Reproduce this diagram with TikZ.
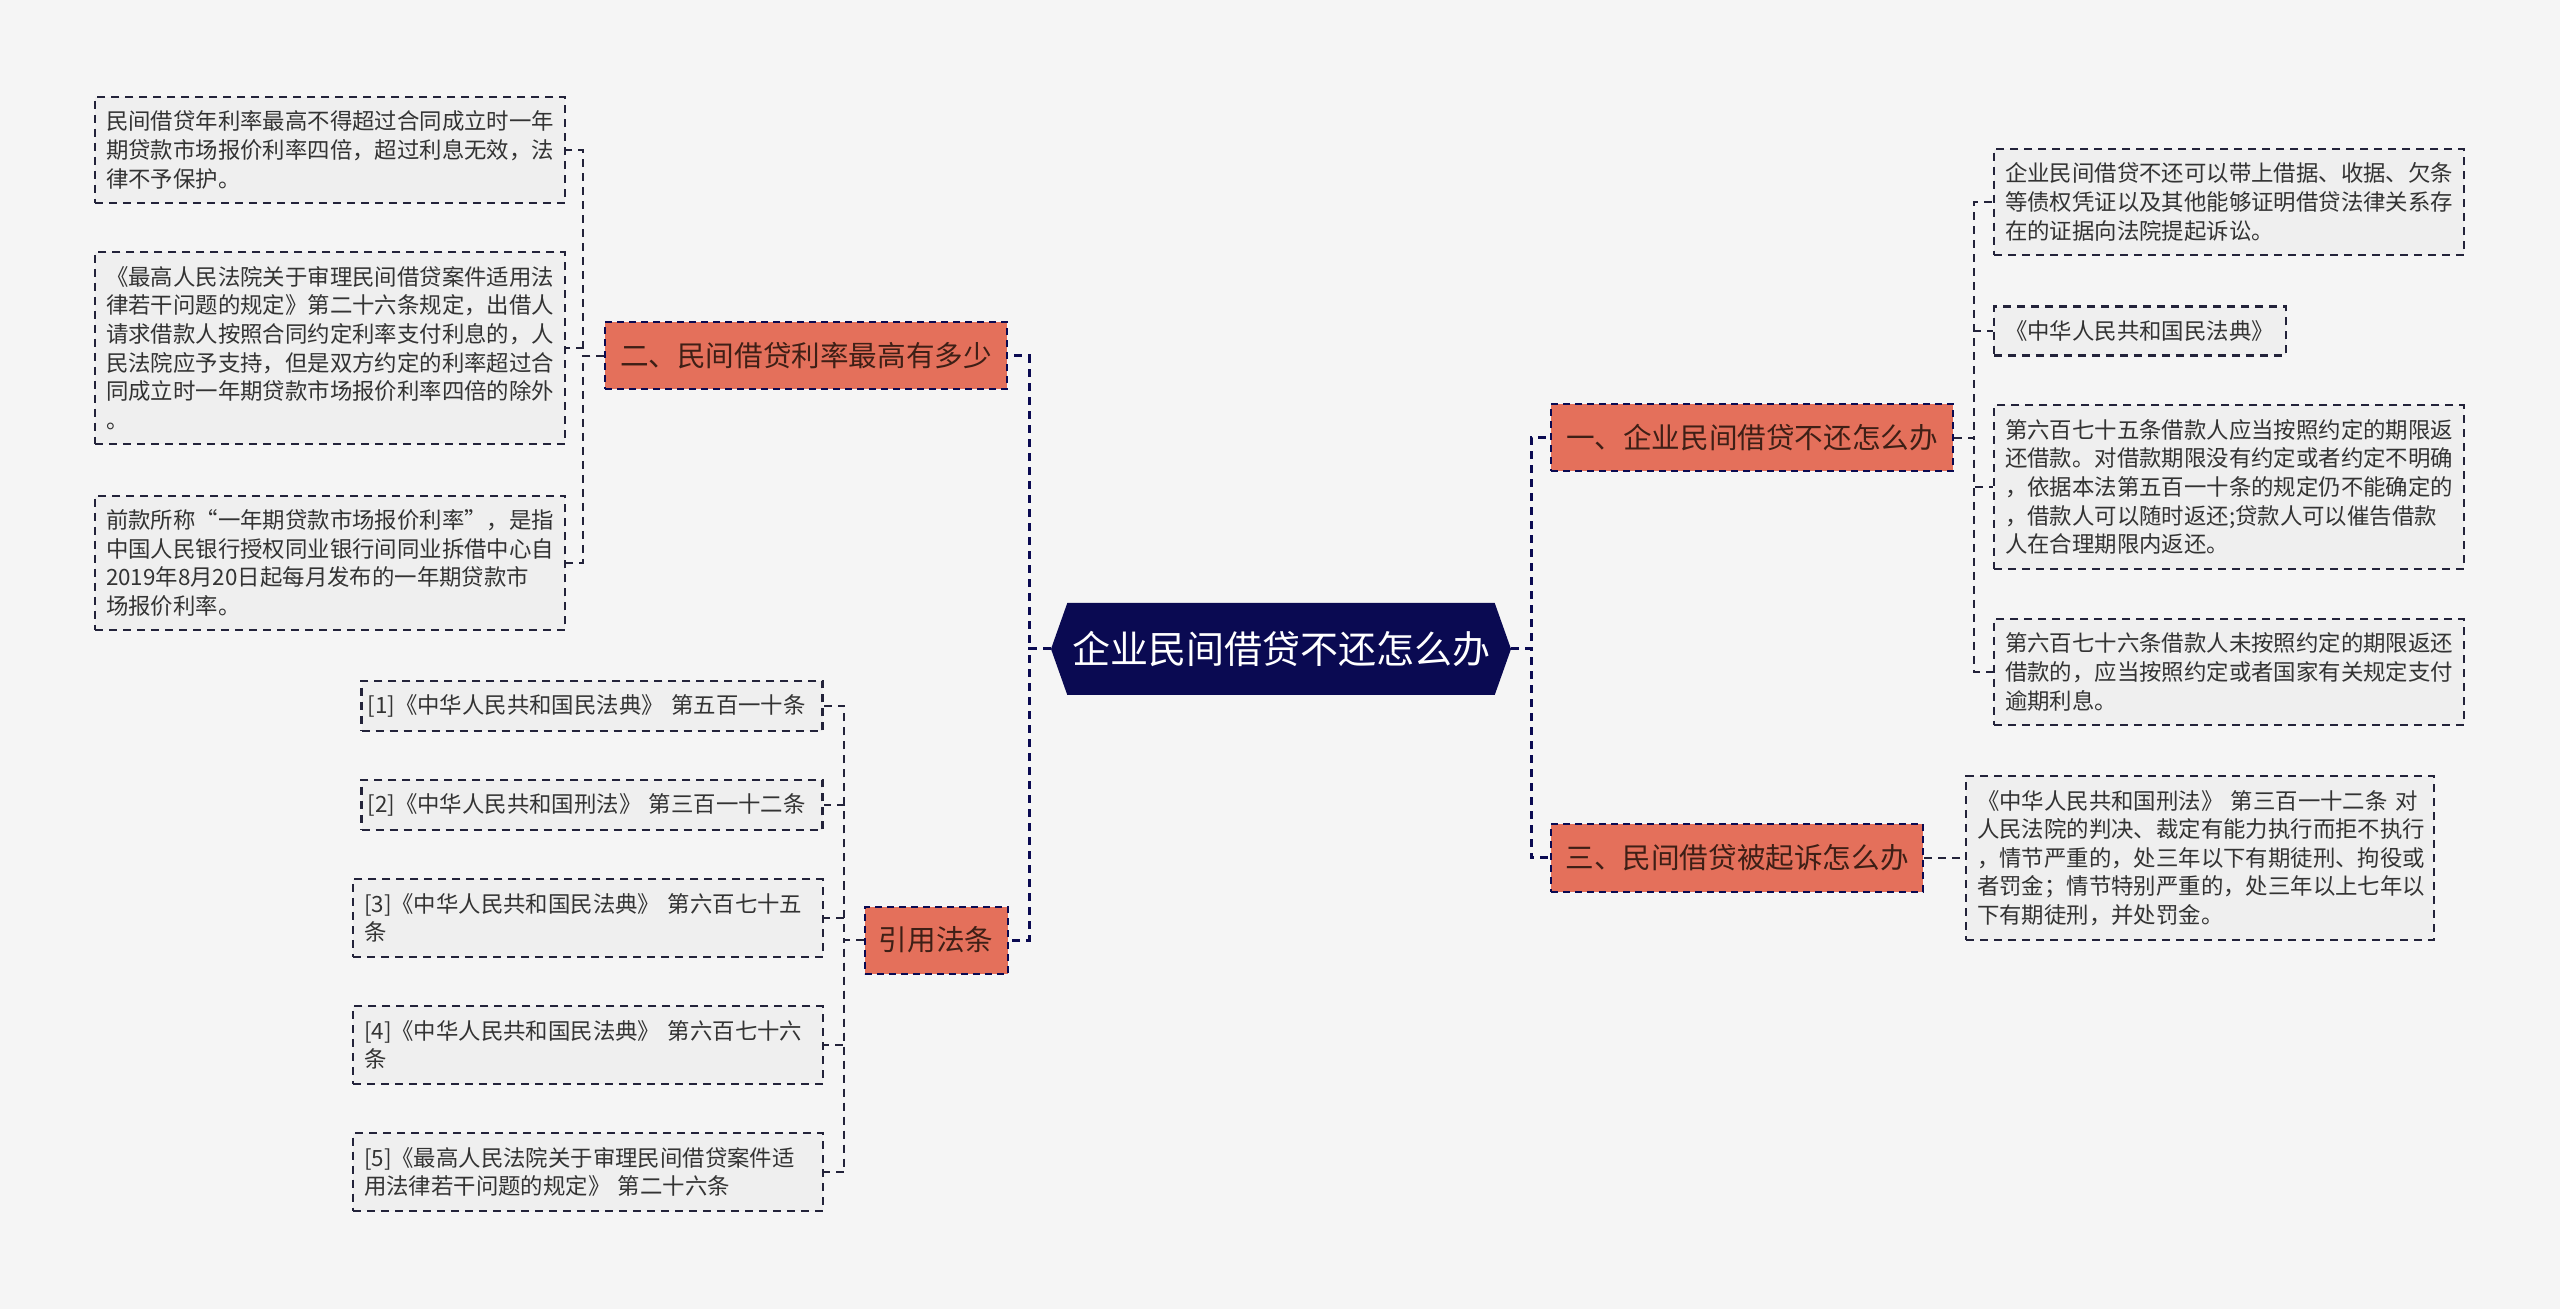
\documentclass[tikz,border=0pt]{standalone}
\usepackage{fontspec}
\setmainfont{Noto Sans CJK SC}
\usepackage{xcolor}
\usepackage{tikz}
\usetikzlibrary{positioning,shapes.symbols}

\definecolor{navy}{HTML}{0A0A52}
\definecolor{salmon}{HTML}{E4705B}
\definecolor{leafgray}{HTML}{EFEFEF}
\definecolor{bggray}{HTML}{F5F5F5}
\definecolor{leaftext}{HTML}{333333}
\definecolor{branchtext}{HTML}{3E1F16}
\definecolor{edgegray}{HTML}{23233A}

\begin{document}
\begin{tikzpicture}[x=0.5pt, y=-0.5pt,
  root/.style={signal, signal to=west and east, signal pointer angle=141, fill=navy, text=white, font=\fontsize{19}{22}\selectfont, minimum width=230pt, minimum height=46pt, inner sep=0pt},
  branch/.style={draw=navy, line width=1pt, dash pattern=on 3.5pt off 2.5pt, fill=salmon, text=branchtext, font=\fontsize{14.3}{17}\selectfont, minimum height=33.5pt, inner xsep=0pt},
  leaf/.style={draw=edgegray, line width=1.1pt, dash pattern=on 4pt off 3pt, fill=leafgray, text=leaftext, font=\fontsize{11.2}{14.3}\selectfont, align=left, text width=224pt, inner xsep=5.5pt, inner ysep=7pt},
  link/.style={draw=edgegray, line width=1pt, dash pattern=on 4pt off 3pt},
  trunk/.style={draw=navy, line width=1.5pt, dash pattern=on 4pt off 3pt}]

\fill[bggray] (0,0) rectangle (2560,1309);

% centre and branches
\node[root] (root) at (1281,649) {企业民间借贷不还怎么办};
\node[branch, minimum width=201pt] (b2) at (806,356) {二、民间借贷利率最高有多少};
\node[branch, minimum width=71.5pt] (b4) at (936,940) {引用法条};
\node[branch, minimum width=201pt] (b1) at (1752,438) {一、企业民间借贷不还怎么办};
\node[branch, minimum width=186pt] (b3) at (1737,858) {三、民间借贷被起诉怎么办};

% leaves of b2
\node[leaf] (l1) at (330,150) {民间借贷年利率最高不得超过合同成立时一年\\期贷款市场报价利率四倍，超过利息无效，法\\律不予保护。};
\node[leaf] (l2) at (330,348) {《最高人民法院关于审理民间借贷案件适用法\\律若干问题的规定》第二十六条规定，出借人\\请求借款人按照合同约定利率支付利息的，人\\民法院应予支持，但是双方约定的利率超过合\\同成立时一年期贷款市场报价利率四倍的除外\\。};
\node[leaf] (l3) at (330,563) {前款所称“一年期贷款市场报价利率”，是指\\中国人民银行授权同业银行间同业拆借中心自\\2019年8月20日起每月发布的一年期贷款市\\场报价利率。};

% leaves of b4
\node[leaf, text width=224.5pt, inner xsep=3pt] (c1) at (592,706) {\mbox{[1]《中华人民共和国民法典》 第五百一十条}};
\node[leaf, text width=224.5pt, inner xsep=3pt] (c2) at (592,805) {\mbox{[2]《中华人民共和国刑法》 第三百一十二条}};
\node[leaf] (c3) at (588,918) {[3]《中华人民共和国民法典》 第六百七十五\\条};
\node[leaf] (c4) at (588,1045) {[4]《中华人民共和国民法典》 第六百七十六\\条};
\node[leaf] (c5) at (588,1172) {[5]《最高人民法院关于审理民间借贷案件适\\用法律若干问题的规定》 第二十六条};

% leaves of b1
\node[leaf] (r1) at (2229,202) {企业民间借贷不还可以带上借据、收据、欠条\\等债权凭证以及其他能够证明借贷法律关系存\\在的证据向法院提起诉讼。};
\node[leaf, text width=135pt] (r2) at (2140,331) {《中华人民共和国民法典》};
\node[leaf] (r3) at (2229,487) {第六百七十五条借款人应当按照约定的期限返\\还借款。对借款期限没有约定或者约定不明确\\，依据本法第五百一十条的规定仍不能确定的\\，借款人可以随时返还;贷款人可以催告借款\\人在合理期限内返还。};
\node[leaf] (r4) at (2229,672) {第六百七十六条借款人未按照约定的期限返还\\借款的，应当按照约定或者国家有关规定支付\\逾期利息。};

% leaf of b3
\node[leaf, text width=223pt] (r5) at (2200,858) {《中华人民共和国刑法》 第三百一十二条 对\\人民法院的判决、裁定有能力执行而拒不执行\\，情节严重的，处三年以下有期徒刑、拘役或\\者罚金；情节特别严重的，处三年以上七年以\\下有期徒刑，并处罚金。};

% trunk positions
\coordinate (tl) at (1029,0);
\coordinate (tr) at (1531,0);
\coordinate (t2) at (583,0);
\coordinate (t4) at (844,0);
\coordinate (t1) at (1974,0);

\draw[trunk] (root.west) -- (root.west -| tl) |- (b2.east);
\draw[trunk] (root.west) -- (root.west -| tl) |- (b4.east);
\draw[trunk] (root.east) -- (root.east -| tr) |- (b1.west);
\draw[trunk] (root.east) -- (root.east -| tr) |- (b3.west);

\foreach \n in {l1,l2,l3}
  \draw[link] (b2.west) -- (b2.west -| t2) |- (\n.east);
\foreach \n in {c1,c2,c3,c4,c5}
  \draw[link] (b4.west) -- (b4.west -| t4) |- (\n.east);
\foreach \n in {r1,r2,r3,r4}
  \draw[link] (b1.east) -- (b1.east -| t1) |- (\n.west);
\draw[link] (b3.east) -- (r5.west);
\end{tikzpicture}
\end{document}
